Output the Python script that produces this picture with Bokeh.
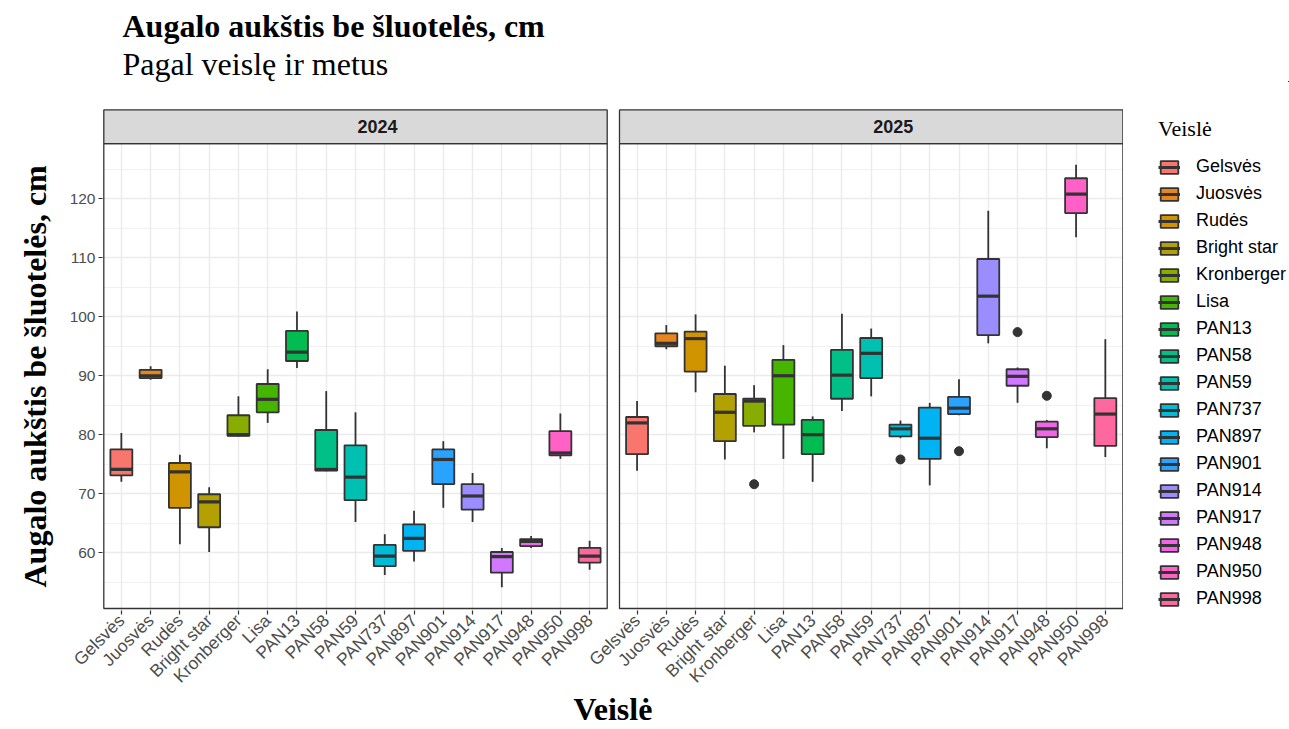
import math
from bokeh.plotting import figure
from bokeh.layouts import row
from bokeh.models import (ColumnDataSource, FixedTicker, Range1d, Legend,
                          LegendItem, Title)
from bokeh.core.properties import value
from bokeh.embed import file_html
from bokeh.resources import INLINE

# ---------------- data ----------------
varieties = ["Gelsvės", "Juosvės", "Rudės", "Bright star", "Kronberger", "Lisa",
             "PAN13", "PAN58", "PAN59", "PAN737", "PAN897", "PAN901", "PAN914",
             "PAN917", "PAN948", "PAN950", "PAN998"]
years = ["2024", "2025"]
palette = ["#F8766D", "#E7851E", "#D09400", "#B2A100", "#89AC00", "#45B500",
           "#00BC51", "#00C087", "#00C0B2", "#00BCD6", "#00B3F2", "#29A3FF",
           "#9C8DFF", "#D277FF", "#F166E8", "#FF61C7", "#FF689E"]

low_2024 = [72.0, 89.3, 61.4, 60.1, 79.7, 82.0, 91.3, 73.8, 65.2, 56.2, 58.5, 67.6, 65.2, 54.1, 60.8, 75.9, 57.1]
q1_2024 = [73.1, 89.6, 67.6, 64.3, 79.8, 83.8, 92.5, 73.9, 68.9, 57.7, 60.3, 71.6, 67.3, 56.6, 61.1, 76.5, 58.3]
med_2024 = [74.1, 90.0, 73.7, 68.6, 80.0, 86.0, 94.0, 74.1, 72.8, 59.4, 62.4, 75.8, 69.6, 59.3, 61.9, 76.9, 59.4]
q3_2024 = [77.5, 91.0, 75.2, 69.9, 83.3, 88.6, 97.6, 80.8, 78.2, 61.3, 64.8, 77.5, 71.6, 60.1, 62.3, 80.6, 60.8]
high_2024 = [80.3, 91.6, 76.6, 71.1, 86.5, 91.1, 100.9, 87.4, 83.8, 63.1, 67.1, 78.9, 73.5, 60.8, 62.8, 83.6, 62.0]

low_2025 = [73.9, 94.5, 87.2, 75.8, 80.4, 75.9, 72.0, 84.0, 86.5, 79.4, 71.4, 83.3, 95.5, 85.4, 77.7, 113.5, 76.2]
q1_2025 = [76.7, 95.0, 90.7, 78.9, 81.5, 81.7, 76.7, 86.1, 89.6, 79.7, 75.9, 83.5, 96.9, 88.3, 79.6, 117.6, 78.1]
med_2025 = [82.0, 95.5, 96.3, 83.8, 85.7, 90.0, 80.0, 90.1, 93.8, 81.0, 79.4, 84.5, 103.5, 89.9, 81.0, 120.8, 83.5]
q3_2025 = [83.0, 97.2, 97.5, 86.9, 86.1, 92.7, 82.5, 94.4, 96.4, 81.7, 84.6, 86.4, 109.8, 91.1, 82.2, 123.5, 86.2]
high_2025 = [85.7, 98.6, 100.4, 91.7, 88.4, 95.2, 83.1, 100.5, 98.0, 82.4, 85.4, 89.4, 118.0, 91.4, 82.5, 125.8, 96.2]

out_year = ["2025", "2025", "2025", "2025", "2025"]
out_variety = ["Kronberger", "PAN737", "PAN901", "PAN917", "PAN948"]
out_value = [71.6, 75.8, 77.2, 97.4, 86.6]

y_ticks = [60, 70, 80, 90, 100, 110, 120]
y_minor = [55, 65, 75, 85, 95, 105, 115, 125]

title_text = "Augalo aukštis be šluotelės, cm"
subtitle_text = "Pagal veislę ir metus"
y_title = "Augalo aukštis be šluotelės, cm"
x_title = "Veislė"
legend_title = "Veislė"

stats = {
    "2024": (low_2024, q1_2024, med_2024, q3_2024, high_2024),
    "2025": (low_2025, q1_2025, med_2025, q3_2025, high_2025),
}

# ---------------- layout geometry (page pixels) ----------------
W, H = 1289, 729
FRAME_L, FRAME_R, FRAME_T, FRAME_B = 102, 1123, 81, 612
P1_L, P1_R, P2_L = 103.3, 606.7, 619.0      # panel borders
STRIP_T, PANEL_T, PANEL_B = 109.5, 143.3, 610.0

STEP = 100                      # x units per category
PANEL_U = 17.2 * STEP
UX = PANEL_U / (P1_R - P1_L)    # x units per px
SHIFT = int(round((P2_L - P1_L) * UX))


def cat_pos(yi, vi):
    return (vi + 1) * STEP + yi * SHIFT


panel_left = [0.4 * STEP + yi * SHIFT for yi in range(len(years))]
panel_right = [pl + PANEL_U for pl in panel_left]
x_start = panel_left[0] - (P1_L - FRAME_L) * UX
x_end = panel_right[-1] + (FRAME_R - (P2_L + P1_R - P1_L)) * UX

all_vals = []
for yr in years:
    all_vals += stats[yr][0] + stats[yr][4]
all_vals += out_value
vmin, vmax = min(all_vals), max(all_vals)
span = vmax - vmin
y0 = vmin - 0.05 * span
y1 = vmax + 0.05 * span
UY = (y1 - y0) / (PANEL_B - PANEL_T)
strip_top = y1 + (PANEL_T - STRIP_T) * UY
y_start = y0 - (FRAME_B - PANEL_B) * UY
y_end = y1 + (PANEL_T - FRAME_T) * UY

# ---------------- main figure ----------------
p = figure(width=FRAME_R, height=H, output_backend="svg", toolbar_location=None,
           x_range=Range1d(x_start, x_end), y_range=Range1d(y_start, y_end),
           min_border_left=FRAME_L, min_border_right=0,
           min_border_top=FRAME_T, min_border_bottom=H - FRAME_B,
           background_fill_color="white", border_fill_color="white",
           outline_line_color=None, title=title_text)

p.title.text_font = "Liberation Serif"
p.title.text_font_size = "32px"
p.title.text_font_style = "bold"
p.title.text_color = "#000000"
p.title.align = "left"
p.title.offset = 20
p.title.standoff = 0

sub = Title(text=subtitle_text, text_font="Liberation Serif", text_font_size="32px",
            text_font_style="normal", text_color="#000000", align="left",
            offset=20, standoff=0)
p.add_layout(sub, "above")

# axes
x_ticks = [cat_pos(yi, vi) for yi in range(len(years)) for vi in range(len(varieties))]
x_labels = {cat_pos(yi, vi): varieties[vi] for yi in range(len(years)) for vi in range(len(varieties))}

xt = FixedTicker(ticks=x_ticks)
p.xaxis.ticker = xt
p.xgrid.ticker = xt
p.xaxis.major_label_overrides = x_labels
p.xaxis.major_label_orientation = math.pi / 4
yt = FixedTicker(ticks=y_ticks, minor_ticks=y_minor)
p.yaxis.ticker = yt
p.ygrid.ticker = yt

for ax in (p.xaxis[0], p.yaxis[0]):
    ax.axis_line_color = None
    ax.major_tick_line_color = "#333333"
    ax.major_tick_line_width = 1.2
    ax.major_tick_out = 4
    ax.major_tick_in = 0
    ax.minor_tick_line_color = None
    ax.major_label_text_font = "Liberation Sans"
    ax.major_label_text_color = "#4D4D4D"
    ax.major_label_standoff = 3
    ax.axis_label_text_font = "Liberation Serif"
    ax.axis_label_text_font_style = "bold"
    ax.axis_label_text_font_size = "32px"
    ax.axis_label_text_color = "#000000"

p.yaxis.major_label_text_font_size = "15.5px"
p.xaxis.major_label_text_font_size = "17.5px"
p.xaxis.axis_label = x_title
p.xaxis.axis_label_standoff = -6

# y-axis title centred on the panels (not on the strips)
ytitle = Title(text=y_title, text_font="Liberation Serif", text_font_size="32px",
               text_font_style="bold", text_color="#000000", align="left",
               vertical_align="bottom", offset=23, standoff=27)
p.add_layout(ytitle, "left")

p.xgrid.grid_line_color = "#EBEBEB"
p.xgrid.grid_line_width = 1.4
p.ygrid.grid_line_color = "#EBEBEB"
p.ygrid.grid_line_width = 1.4
p.ygrid.minor_grid_line_color = "#EBEBEB"
p.ygrid.minor_grid_line_width = 0.7

# blank areas: gap between the panels and band above the strips
p.quad(left=[panel_right[0]], right=[panel_left[1]], bottom=[y_start], top=[y_end],
       fill_color="white", line_color=None)
p.quad(left=[x_start], right=[x_end], bottom=[strip_top], top=[y_end],
       fill_color="white", line_color=None)

# ---------------- boxes ----------------
rows = dict(x=[], low=[], q1=[], med=[], q3=[], high=[], left=[], right=[], color=[])
BOX_W = 0.75 * STEP
for yi, yr in enumerate(years):
    lo, q1, md, q3, hi = stats[yr]
    for vi, v in enumerate(varieties):
        x = cat_pos(yi, vi)
        rows["x"].append(x)
        rows["low"].append(lo[vi])
        rows["q1"].append(q1[vi])
        rows["med"].append(md[vi])
        rows["q3"].append(q3[vi])
        rows["high"].append(hi[vi])
        rows["left"].append(x - BOX_W / 2)
        rows["right"].append(x + BOX_W / 2)
        rows["color"].append(palette[vi])
src = ColumnDataSource(rows)

EDGE = "#333333"
p.segment(x0="x", y0="q3", x1="x", y1="high", source=src, line_color=EDGE, line_width=1.8)
p.segment(x0="x", y0="low", x1="x", y1="q1", source=src, line_color=EDGE, line_width=1.8)
p.vbar(x="x", width=BOX_W, bottom="q1", top="q3", source=src,
       fill_color="color", line_color=EDGE, line_width=1.8)
p.segment(x0="left", y0="med", x1="right", y1="med", source=src,
          line_color=EDGE, line_width=3.2)

out_x = [cat_pos(years.index(yr), varieties.index(v)) for yr, v in zip(out_year, out_variety)]
p.scatter(x=out_x, y=out_value, size=9, fill_color=EDGE, line_color=EDGE)

# panel borders and strips
p.quad(left=panel_left, right=panel_right, bottom=[y0] * 2, top=[y1] * 2,
       fill_color=None, line_color=EDGE, line_width=1.3)
p.quad(left=panel_left, right=panel_right, bottom=[y1] * 2, top=[strip_top] * 2,
       fill_color="#D9D9D9", line_color=EDGE, line_width=1.3)
strip_x = [pl + 0.5436 * PANEL_U for pl in panel_left]
strip_y = [(y1 + strip_top) / 2] * 2
p.text(x=strip_x, y=strip_y, text=years, text_align="center", text_baseline="middle",
       text_font=value("Liberation Sans"), text_font_style="bold",
       text_font_size="18px", text_color="#1A1A1A")

# ---------------- legend (own narrow figure to the right) ----------------
LEG_W = W - FRAME_R
pl_ = figure(width=LEG_W, height=H, output_backend="svg", toolbar_location=None,
             x_range=Range1d(0, 1), y_range=Range1d(0, 1),
             x_axis_type=None, y_axis_type=None, min_border=0,
             min_border_left=0, min_border_right=0, min_border_top=0, min_border_bottom=0,
             background_fill_color="white", border_fill_color="white",
             outline_line_color=None)
pl_.grid.visible = False
lg_box = pl_.vbar(x="x", width=BOX_W, bottom="q1", top="q3", source=src,
                  fill_color="color", line_color=EDGE, line_width=1.8)
lg_med = pl_.segment(x0="left", y0="med", x1="right", y1="med", source=src,
                     line_color=EDGE, line_width=3.0)

items = [LegendItem(label=v, renderers=[lg_box, lg_med], index=i) for i, v in enumerate(varieties)]
legend = Legend(items=items, location=(35, 1), title=legend_title,
                title_text_font="Liberation Serif", title_text_font_size="22px",
                title_text_font_style="normal", title_text_color="#000000",
                title_standoff=14,
                label_text_font="Liberation Sans", label_text_font_size="18px",
                label_text_color="#000000", glyph_width=22, glyph_height=16,
                label_height=18, label_standoff=16, spacing=6, padding=0, margin=0,
                border_line_color=None, background_fill_alpha=0)
pl_.add_layout(legend)

layout = row(p, pl_, spacing=0)
open("out.html", "w", encoding="utf-8").write(file_html(layout, INLINE))
